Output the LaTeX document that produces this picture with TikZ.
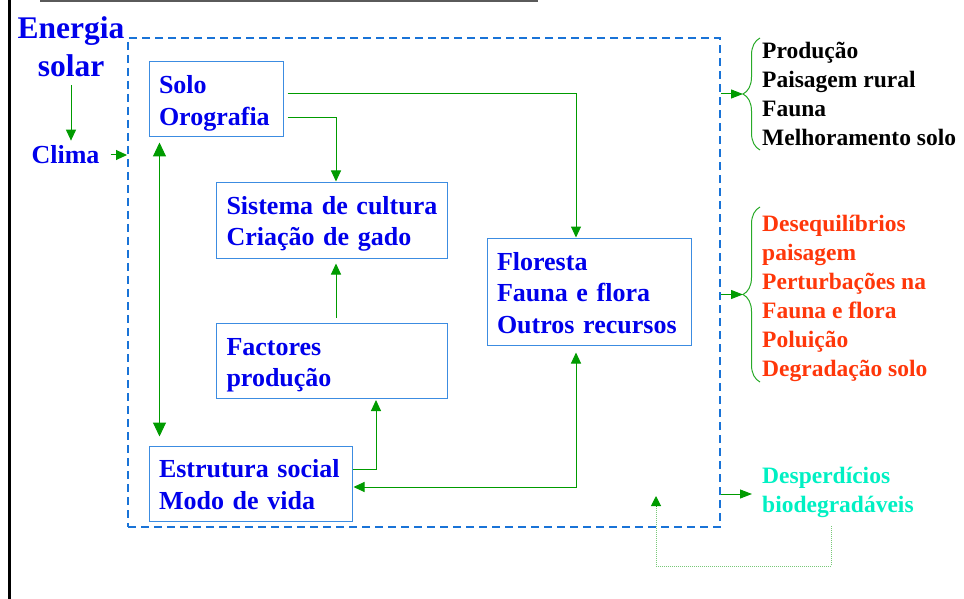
\documentclass[tikz,border=0pt]{standalone}
\usepackage{fontspec}
\setmainfont{Liberation Serif}
\usetikzlibrary{arrows.meta,calc,decorations.pathreplacing}
\definecolor{tblue}{RGB}{0,0,235}
\definecolor{bord}{RGB}{60,140,225}
\definecolor{dashc}{RGB}{25,115,215}
\definecolor{garr}{RGB}{0,155,0}
\definecolor{gbrace}{RGB}{40,170,40}
\definecolor{gdot}{RGB}{120,200,120}
\definecolor{tred}{RGB}{255,55,10}
\definecolor{tcyan}{RGB}{0,240,195}
\definecolor{topgray}{RGB}{90,90,90}
\newcommand\topst{\rule{0pt}{26pt}}
\newcommand\botst{\rule[-6pt]{0pt}{6pt}}
\begin{document}
\begin{tikzpicture}[x=1pt,y=-1pt,
  boxn/.style={draw=bord,line width=1pt,text=tblue,font=\fontsize{26}{31.5}\selectfont\bfseries,align=left,inner xsep=10pt,inner ysep=0pt},
  arr/.style={draw=garr,line width=1pt,-{Triangle[length=11pt,width=10pt]}},
  darr/.style={draw=garr,line width=1pt,{Triangle[length=14pt,width=13pt]}-{Triangle[length=14pt,width=13pt]}},
  barr/.style={draw=garr,line width=1pt,-{Triangle[length=12pt,width=9pt]}},
  rtext/.style={font=\fontsize{23.5}{29}\selectfont\bfseries,align=left,inner sep=0pt,anchor=west},
  bracec/.style={draw=gbrace,line width=1pt,decorate,decoration={brace,amplitude=17pt}},
  dotline/.style={draw=gdot,line width=1pt,densely dotted}]
\useasboundingbox (0,0) rectangle (964,599);
% page edges
\draw[line width=3pt,black] (9,0) -- (9,599);
\draw[line width=2.5pt,topgray] (40,1) -- (538,1);
% frame
\node[draw=dashc,dash pattern=on 8pt off 5pt,line width=2pt,minimum width=592pt,minimum height=489pt,inner sep=0pt] (frame) at (424,282.5) {};
% left texts
\node[text=tblue,font=\fontsize{31.5}{38}\selectfont\bfseries,align=center,inner sep=0pt] (en) at (71,47) {Energia\\solar};
\node[text=tblue,font=\fontsize{26}{31.5}\selectfont\bfseries,inner sep=0pt] (clima) at (65.5,155) {Clima};
\draw[arr] ($(en.south)+(0,8)$) -- ($(en.south |- clima.north)+(0,-5)$);
\draw[arr] ($(clima.east)+(11,0)$) -- (clima.east -| frame.west);
% boxes
\node[boxn,text width=114pt,minimum height=75pt] (solo) at (216,99.5) {\topst Solo\\Orografia\botst};
\node[boxn,text width=211pt,minimum height=76pt] (sist) at (332,220) {\topst Sistema de cultura\\Criação de gado\botst};
\node[boxn,text width=211pt,minimum height=75pt] (fact) at (332,361) {\topst Factores\\produção\botst};
\node[boxn,text width=184pt,minimum height=107pt] (flor) at (589,291.5) {\topst Floresta\\Fauna e flora\\Outros recursos\botst};
\node[boxn,text width=183pt,minimum height=75pt] (estr) at (250.5,483.5) {\topst Estrutura social\\Modo de vida\botst};
% connectors
\draw[arr] ($(solo.north east)+(4,32)$) -| ($(flor.north)+(-13,0)$);
\draw[arr] ($(solo.north east)+(4,56)$) -| ($(sist.north)+(4,0)$);
\draw[arr] ($(fact.north)+(4,-5)$) -- ($(sist.south)+(4,5)$);
\draw[darr] ($(solo.south west)+(11,5)$) -- ($(estr.north west)+(11,-9)$);
\draw[arr] ($(estr.north east)+(0,24)$) -| ($(fact.south)+(44,1)$);
\draw[arr,{Triangle[length=11pt,width=10pt]}-{Triangle[length=11pt,width=10pt]}] ($(flor.south)+(-13,7)$) |- ($(estr.east)+(1,3.5)$);
% right side
\node[rtext,text=black] (prod) at (762,94) {Produção\\Paisagem rural\\Fauna\\Melhoramento solo};
\node[rtext,text=tred] (deseq) at (762,298.5) {Desequilíbrios\\paisagem\\Perturbações na\\Fauna e flora\\Poluição\\Degradação solo};
\node[rtext,text=tcyan] (desp) at (762,492) {Desperdícios\\biodegradáveis};
\coordinate (b1) at (743,94);
\coordinate (b2) at (743,294.5);
\draw[bracec] (760,150) -- (760,38);
\draw[bracec] (760,382) -- (760,207);
\draw[barr] (frame.east |- b1) -- (b1);
\draw[barr] (frame.east |- b2) -- (b2);
\draw[barr] ($(frame.east |- desp.west)+(0,2)$) -- ($(desp.west)+(-10,2)$);
% dotted return
\coordinate (dtop) at (831,526);
\coordinate (dbot) at (744,566);
\coordinate (dret) at (656,496);
\draw[dotline] (dtop) -- (dtop |- dbot) -- (dret |- dbot) -- ($(dret)+(0,9)$);
\draw[draw=garr,line width=1pt,-{Triangle[length=10pt,width=10pt]}] ($(dret)+(0,9.5)$) -- (dret);
\end{tikzpicture}
\end{document}
